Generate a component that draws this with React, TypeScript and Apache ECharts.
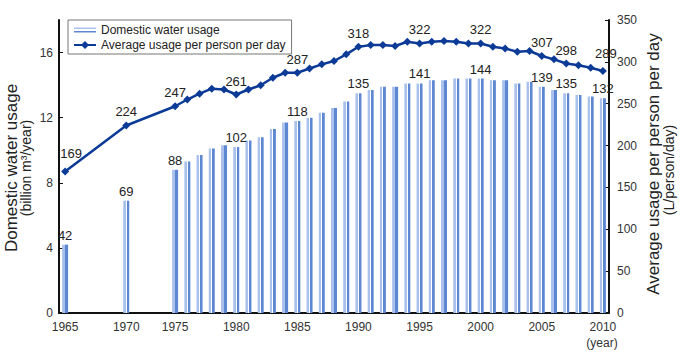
import React, { useEffect, useRef } from "react";
import * as echarts from "echarts";

// Category slots (gaps between survey years are unnamed placeholders)
const years = [
  "1965", "_g1", "_g2", "_g3", "_g4", "1970", "_g5", "_g6", "_g7",
  "1975", "1976", "1977", "1978", "1979", "1980", "1981", "1982", "1983", "1984",
  "1985", "1986", "1987", "1988", "1989", "1990", "1991", "1992", "1993", "1994",
  "1995", "1996", "1997", "1998", "1999", "2000", "2001", "2002", "2003", "2004",
  "2005", "2006", "2007", "2008", "2009", "2010",
];

// Domestic water usage (billion m3/year)
const domesticUsage = [
  4.2, null, null, null, null, 6.9, null, null, null,
  8.8, 9.3, 9.7, 10.1, 10.3, 10.2, 10.6, 10.8, 11.3, 11.7,
  11.8, 12.0, 12.3, 12.6, 13.0, 13.5, 13.7, 13.9, 13.9, 14.1,
  14.1, 14.3, 14.3, 14.4, 14.4, 14.4, 14.3, 14.3, 14.1, 14.2,
  13.9, 13.7, 13.5, 13.4, 13.3, 13.2,
];

// Average usage per person per day (L/person/day)
const perPersonUsage = [
  169, null, null, null, null, 224, null, null, null,
  247, 255, 262, 268, 267, 261, 267, 272, 281, 287,
  287, 292, 297, 301, 309, 318, 320, 320, 319, 324,
  322, 324, 325, 324, 322, 322, 318, 316, 312, 313,
  307, 303, 298, 296, 293, 289,
];

const tickYears = ["1965", "1970", "1975", "1980", "1985", "1990", "1995", "2000", "2005", "2010"];
const labeledYears = ["1965", "1970", "1975", "1980", "1985", "1990", "1995", "2000", "2005", "2007", "2010"];

const FONT = "'Liberation Sans', Arial, Helvetica, sans-serif";
const LINE_COLOR = "#0c3a97";
const LIGHT_BAR = "#a9c1ec";
const DARK_BAR = "#5d87d2";

export default function App() {
  const ref = useRef<HTMLDivElement>(null);

  useEffect(() => {
    if (!ref.current) return;
    const chart = echarts.init(ref.current, null, { renderer: "svg" });

    const barGradient = new echarts.graphic.LinearGradient(0, 0, 1, 0, [
      { offset: 0, color: LIGHT_BAR },
      { offset: 0.42, color: LIGHT_BAR },
      { offset: 0.42, color: "#ffffff" },
      { offset: 0.56, color: "#ffffff" },
      { offset: 0.56, color: DARK_BAR },
      { offset: 1, color: DARK_BAR },
    ]);
    const legendBarGradient = new echarts.graphic.LinearGradient(0, 0, 0, 1, [
      { offset: 0, color: LIGHT_BAR },
      { offset: 0.5, color: LIGHT_BAR },
      { offset: 0.5, color: DARK_BAR },
      { offset: 1, color: DARK_BAR },
    ]);

    const lineLabelOffsets: Record<string, number[]> = {
      "1965": [6, -5],
      "2010": [3, -4],
    };

    const barData = domesticUsage.map((v) => v);
    const lineData = perPersonUsage.map((v, i) => {
      const off = lineLabelOffsets[years[i]];
      return off ? { value: v, label: { offset: off } } : v;
    });

    const option: any = {
      animation: false,
      textStyle: { fontFamily: FONT },
      grid: { left: 59, right: 79, top: 20, bottom: 49, containLabel: false },
      legend: {
        orient: "vertical",
        left: 68,
        top: 20,
        padding: [4, 6, 3, 5],
        itemGap: 3,
        itemWidth: 22,
        itemHeight: 10,
        borderColor: "#777",
        borderWidth: 1,
        textStyle: { fontSize: 12, color: "#222", fontFamily: FONT },
        data: [
          {
            name: "Domestic water usage",
            icon: "path://M0,0H30V2H0Z M0,5H30V7H0Z",
            itemStyle: { color: legendBarGradient },
          },
          { name: "Average usage per person per day" },
        ],
      },
      xAxis: {
        type: "category",
        data: years,
        boundaryGap: true,
        axisLine: { lineStyle: { color: "#111", width: 2 } },
        axisTick: { show: false },
        axisLabel: {
          interval: (_i: number, v: string) => tickYears.includes(v),
          color: "#333",
          fontSize: 12,
          margin: 8,
          fontFamily: FONT,
        },
        splitLine: { show: false },
      },
      yAxis: [
        {
          type: "value",
          min: 0,
          max: 18,
          interval: 4,
          axisLine: { show: true, lineStyle: { color: "#111", width: 2 } },
          axisTick: { show: true, inside: true, length: 4, lineStyle: { color: "#111" } },
          axisLabel: { showMaxLabel: false, color: "#333", fontSize: 12, margin: 6, fontFamily: FONT },
          splitLine: { show: false },
        },
        {
          type: "value",
          position: "right",
          min: 0,
          max: 350,
          interval: 50,
          axisLine: { show: true, lineStyle: { color: "#111", width: 2 } },
          axisTick: { show: true, inside: true, length: 4, lineStyle: { color: "#111" } },
          axisLabel: { color: "#333", fontSize: 12, margin: 8, fontFamily: FONT },
          splitLine: { show: false },
        },
      ],
      series: [
        {
          name: "Domestic water usage",
          type: "bar",
          yAxisIndex: 0,
          barWidth: 6,
          data: barData,
          itemStyle: { color: barGradient },
          label: {
            show: true,
            position: "top",
            distance: 3,
            color: "#222",
            fontSize: 13,
            fontFamily: FONT,
            formatter: (p: any) =>
              labeledYears.includes(years[p.dataIndex]) ? String(Math.round(p.value * 10)) : "",
          },
          z: 2,
        },
        {
          name: "Average usage per person per day",
          type: "line",
          yAxisIndex: 1,
          data: lineData,
          connectNulls: true,
          symbol: "diamond",
          symbolSize: 8,
          lineStyle: { color: LINE_COLOR, width: 2.5 },
          itemStyle: { color: LINE_COLOR },
          label: {
            show: true,
            position: "top",
            distance: 3,
            color: "#222",
            fontSize: 13,
            fontFamily: FONT,
            formatter: (p: any) =>
              labeledYears.includes(years[p.dataIndex]) ? String(p.value) : "",
          },
          z: 5,
        },
      ],
      graphic: [
        {
          type: "text",
          x: 11,
          y: 168,
          rotation: Math.PI / 2,
          style: {
            text: "Domestic water usage",
            fontSize: 17,
            fontFamily: FONT,
            fill: "#222",
            align: "center",
            verticalAlign: "middle",
          },
        },
        {
          type: "text",
          x: 26,
          y: 168,
          rotation: Math.PI / 2,
          style: {
            text: "(billion m³/year)",
            fontSize: 14,
            fontFamily: FONT,
            fill: "#222",
            align: "center",
            verticalAlign: "middle",
          },
        },
        {
          type: "text",
          x: 653,
          y: 164,
          rotation: Math.PI / 2,
          style: {
            text: "Average usage per person per day",
            fontSize: 17,
            fontFamily: FONT,
            fill: "#222",
            align: "center",
            verticalAlign: "middle",
          },
        },
        {
          type: "text",
          x: 669,
          y: 170,
          rotation: Math.PI / 2,
          style: {
            text: "(L/person/day)",
            fontSize: 14,
            fontFamily: FONT,
            fill: "#222",
            align: "center",
            verticalAlign: "middle",
          },
        },
        {
          type: "text",
          x: 602,
          y: 343,
          style: {
            text: "(year)",
            fontSize: 12,
            fontFamily: FONT,
            fill: "#333",
            align: "center",
            verticalAlign: "middle",
          },
        },
      ],
    };

    chart.setOption(option);
    return () => chart.dispose();
  }, []);

  return (
    <div
      ref={ref}
      style={{ position: "fixed", left: 0, top: 0, width: 688, height: 362, background: "#fff" }}
    />
  );
}
